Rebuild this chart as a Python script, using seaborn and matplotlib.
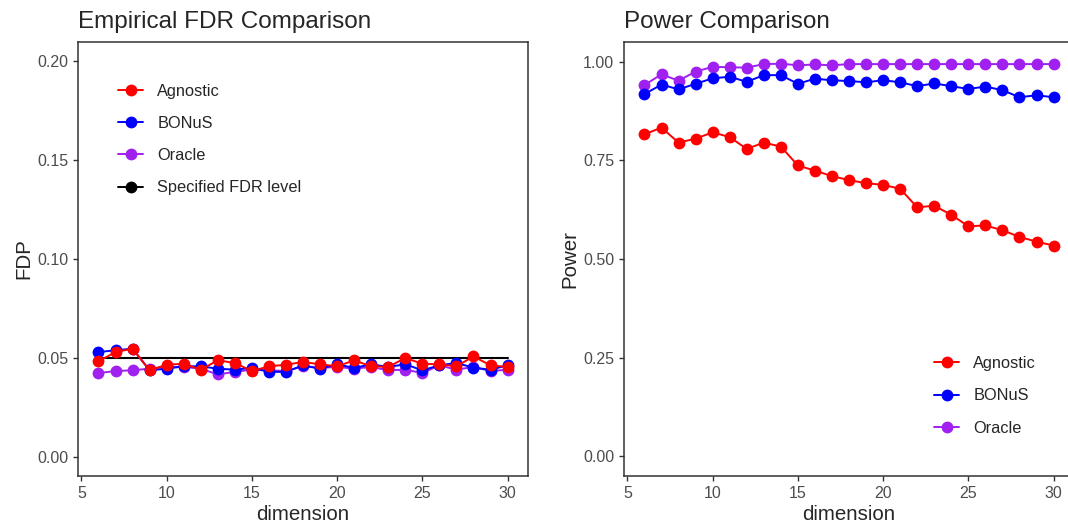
import matplotlib
matplotlib.use("Agg")
import matplotlib.pyplot as plt
import seaborn as sns
import pandas as pd
from matplotlib.lines import Line2D

dimension = list(range(6, 31))

fdr_agnostic = [0.0483, 0.0530, 0.0547, 0.0438, 0.0466, 0.0471, 0.0441, 0.0488, 0.0475,
                0.0434, 0.0458, 0.0466, 0.0480, 0.0468, 0.0458, 0.0488, 0.0458, 0.0455,
                0.0500, 0.0471, 0.0468, 0.0458, 0.0508, 0.0463, 0.0455]
fdr_bonus = [0.0530, 0.0539, 0.0547, 0.0438, 0.0446, 0.0458, 0.0458, 0.0446, 0.0441,
             0.0450, 0.0430, 0.0430, 0.0463, 0.0446, 0.0468, 0.0450, 0.0468, 0.0455,
             0.0468, 0.0438, 0.0463, 0.0475, 0.0451, 0.0441, 0.0463]
fdr_oracle = [0.0424, 0.0434, 0.0438, 0.0446, 0.0455, 0.0455, 0.0446, 0.0417, 0.0430,
              0.0441, 0.0438, 0.0434, 0.0458, 0.0450, 0.0455, 0.0446, 0.0455, 0.0438,
              0.0441, 0.0424, 0.0463, 0.0441, 0.0455, 0.0434, 0.0441]
fdr_level = 0.05

pow_agnostic = [0.816, 0.833, 0.795, 0.805, 0.821, 0.809, 0.779, 0.795, 0.785, 0.737,
                0.724, 0.710, 0.700, 0.692, 0.688, 0.678, 0.631, 0.635, 0.612, 0.583,
                0.585, 0.573, 0.556, 0.544, 0.534]
pow_bonus = [0.918, 0.942, 0.930, 0.944, 0.958, 0.962, 0.949, 0.966, 0.966, 0.944,
             0.957, 0.953, 0.951, 0.948, 0.953, 0.948, 0.938, 0.945, 0.938, 0.931,
             0.937, 0.928, 0.910, 0.915, 0.910]
pow_oracle = [0.941, 0.968, 0.952, 0.975, 0.987, 0.986, 0.985, 0.994, 0.995, 0.991,
              0.993, 0.991, 0.994, 0.994, 0.994, 0.994, 0.994, 0.994, 0.994, 0.994,
              0.994, 0.994, 0.994, 0.994, 0.994]

methods = ["Agnostic", "BONuS", "Oracle"]
colors = {"Agnostic": "#FF0000", "BONuS": "#0000FF", "Oracle": "#A020F0"}

fdr_df = pd.DataFrame({
    "dimension": dimension * 3,
    "value": fdr_oracle + fdr_bonus + fdr_agnostic,
    "method": ["Oracle"] * 25 + ["BONuS"] * 25 + ["Agnostic"] * 25,
})
pow_df = pd.DataFrame({
    "dimension": dimension * 3,
    "value": pow_oracle + pow_bonus + pow_agnostic,
    "method": ["Oracle"] * 25 + ["BONuS"] * 25 + ["Agnostic"] * 25,
})

sns.set_style("white")
plt.rcParams["font.family"] = ["Liberation Sans", "DejaVu Sans"]

fig = plt.figure(figsize=(10.68, 5.22), dpi=100)
ax1 = fig.add_axes([78 / 1068, 1 - 476 / 522, 450 / 1068, 434 / 522])
ax2 = fig.add_axes([624 / 1068, 1 - 476 / 522, 450 / 1068, 434 / 522])

ax1.plot([dimension[0], dimension[-1]], [fdr_level, fdr_level], color="black", lw=1.5, zorder=1)

for ax, df in [(ax1, fdr_df), (ax2, pow_df)]:
    sns.lineplot(data=df, x="dimension", y="value", hue="method", palette=colors,
                 marker="o", markersize=8.5, markeredgewidth=0, linewidth=1.4,
                 legend=False, ax=ax, zorder=3)
    ax.set_xlim(4.8, 31.2)
    ax.set_xticks([5, 10, 15, 20, 25, 30])
    ax.set_xlabel("dimension", fontsize=14.8, labelpad=3)
    for s in ax.spines.values():
        s.set_color("#333333")
        s.set_linewidth(1.1)
    ax.tick_params(axis="both", colors="#333333", labelcolor="#4D4D4D",
                   labelsize=11.5, length=3.5, width=1, direction="out",
                   bottom=True, left=True, pad=3.5)

ax1.set_ylim(-0.0096, 0.2096)
ax1.set_yticks([0.00, 0.05, 0.10, 0.15, 0.20])
ax1.set_yticklabels(["0.00", "0.05", "0.10", "0.15", "0.20"])
ax1.set_ylabel("FDP", fontsize=14.8, labelpad=3)
ax1.set_title("Empirical FDR Comparison", loc="left", fontsize=17.5, pad=10)

ax2.set_ylim(-0.05, 1.05)
ax2.set_yticks([0.00, 0.25, 0.50, 0.75, 1.00])
ax2.set_yticklabels(["0.00", "0.25", "0.50", "0.75", "1.00"])
ax2.set_ylabel("Power", fontsize=14.8, labelpad=3)
ax2.set_title("Power Comparison", loc="left", fontsize=17.5, pad=10)

def handle(c):
    return Line2D([0], [0], color=c, lw=1.4, marker="o", markersize=8.5, markeredgewidth=0)

leg_kw = dict(loc="upper left", frameon=False, fontsize=11.8, handlelength=1.55,
              handletextpad=0.85, labelspacing=1.05, borderpad=0, borderaxespad=0)

h1 = [handle(colors[m]) for m in methods] + [handle("black")]
ax1.legend(h1, methods + ["Specified FDR level"], bbox_to_anchor=(0.089, 0.904), **leg_kw)

h2 = [handle(colors[m]) for m in methods]
ax2.legend(h2, methods, bbox_to_anchor=(0.689, 0.276), **leg_kw)

fig.savefig("out.png", dpi=100)
